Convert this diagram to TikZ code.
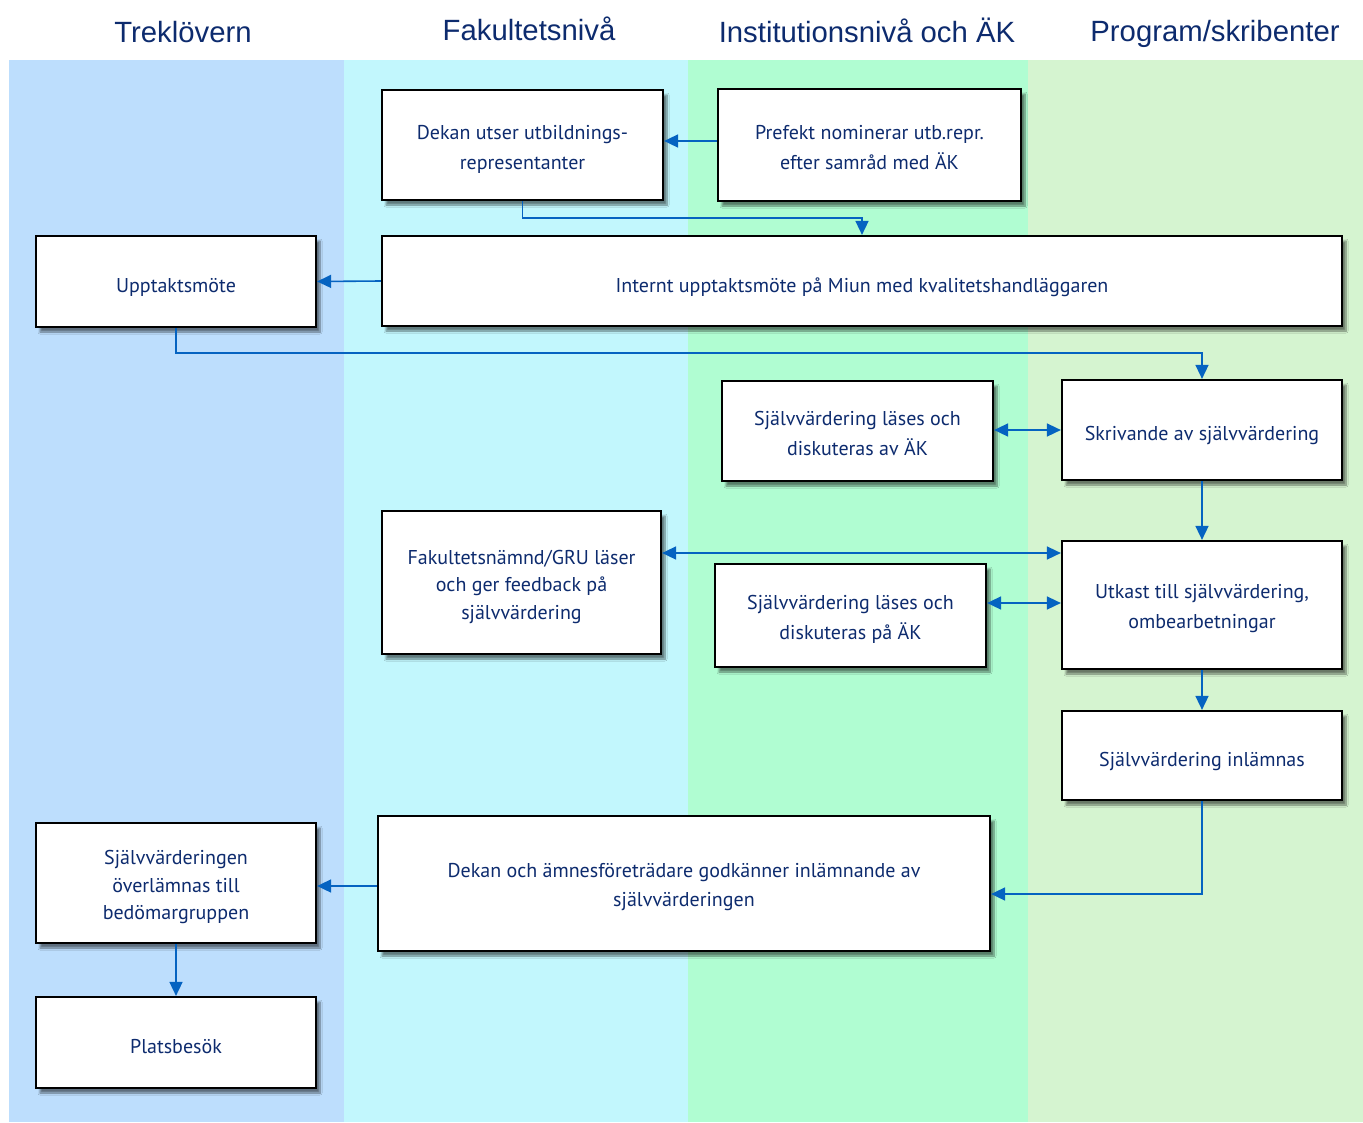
\documentclass[tikz,border=0pt]{standalone}
\usepackage{fontspec}
\setmainfont{PT Sans}
\newfontfamily\headfont{Liberation Sans}
\usetikzlibrary{arrows.meta,shadows.blur}
\definecolor{laneA}{HTML}{BDDEFD}
\definecolor{laneB}{HTML}{C2F7FD}
\definecolor{laneC}{HTML}{B0FDD2}
\definecolor{laneD}{HTML}{D5F4D0}
\definecolor{ink}{HTML}{0D2B6E}
\definecolor{flow}{HTML}{0563C1}
\tikzset{
  stepbox/.style={draw=black, line width=2.2pt, fill=white, inner sep=0pt,
    blur shadow={shadow xshift=4pt, shadow yshift=-5pt, shadow blur steps=8, shadow opacity=50}},
  steptext/.style={text=ink, align=center, inner sep=0pt,
    font=\fontsize{20}{30}\selectfont},
  lanehead/.style={text=ink, font=\headfont\fontsize{29.3}{32}\selectfont,
    text height=21pt, text depth=6pt, inner sep=0pt},
  flowline/.style={draw=flow, line width=1.6pt, -{Triangle[length=14pt,width=13pt]}},
  twoway/.style={draw=flow, line width=1.6pt, {Triangle[length=14pt,width=13pt]}-{Triangle[length=14pt,width=13pt]}}
}
% box from (x1,y1) to (x2,y2) with its text set slightly below the centre
\newcommand{\bx}[7][]{% [text opts], name, x1, y1, x2, y2, text
  \node[stepbox, minimum width={#5-#3}, minimum height={#6-#4}] (#2) at ({(#3+#5)/2},{(#4+#6)/2}) {};
  \node[steptext, yshift=-4pt, #1] (#2-t) at (#2.center) {#7};}
\begin{document}
\begin{tikzpicture}[x=1pt, y=-1pt]
\useasboundingbox (0,0) rectangle (1363,1122);
\fill[white] (0,0) rectangle (1363,1122);
% swim lanes
\fill[laneA] (9,60) rectangle (344,1122);
\fill[laneB] (344,60) rectangle (688,1122);
\fill[laneC] (688,60) rectangle (1028,1122);
\fill[laneD] (1028,60) rectangle (1363,1122);
\node[lanehead] (h1) at (183,35) {Treklövern};
\node[lanehead] (h2) at (529,33) {Fakultetsnivå};
\node[lanehead] (h3) at (867,35) {Institutionsnivå och ÄK};
\node[lanehead] (h4) at (1215,34) {Program/skribenter};
% process steps
\bx{dekan}{382}{90}{663}{200}{Dekan utser utbildnings-\\representanter}
\bx[yshift=1.5pt]{prefekt}{718}{89}{1021}{201}{Prefekt nominerar utb.repr.\\efter samråd med ÄK}
\bx[yshift=-2pt]{internt}{382}{236}{1342}{326}{Internt upptaktsmöte på Miun med kvalitetshandläggaren}
\bx[yshift=-2pt]{upptakt}{36}{236}{316}{327}{Upptaktsmöte}
\bx[yshift=2pt]{lasesav}{722}{381}{993}{481}{Självvärdering läses och\\diskuteras av ÄK}
\bx[yshift=-1pt]{skriv}{1062}{380}{1342}{480}{Skrivande av självvärdering}
\bx[font=\fontsize{20}{27.5}\selectfont]{fak}{382}{511}{661}{654}{Fakultetsnämnd/GRU läser\\och ger feedback på\\självvärdering}
\bx{lasespa}{715}{564}{986}{667}{Självvärdering läses och\\diskuteras på ÄK}
\bx{utkast}{1062}{541}{1342}{669}{Utkast till självvärdering,\\ombearbetningar}
\bx[yshift=-2pt]{inlamn}{1062}{711}{1342}{800}{Självvärdering inlämnas}
\bx[font=\fontsize{20}{29}\selectfont]{godk}{378}{816}{990}{951}{Dekan och ämnesföreträdare godkänner inlämnande av\\självvärderingen}
\bx[font=\fontsize{20}{27.5}\selectfont]{overl}{36}{823}{316}{943}{Självvärderingen\\överlämnas till\\bedömargruppen}
\bx{plats}{36}{997}{316}{1088}{Platsbesök}
% connectors
\draw[flowline] (prefekt.west |- 0,141) -- (dekan.east |- 0,141);
\draw[flowline] (dekan.south) -- (dekan.south |- 0,218) -- (internt.north |- 0,218) -- (internt.north);
\draw[flowline] (internt.west) -- (upptakt.east);
\draw[flowline] (upptakt.south) -- (upptakt.south |- 0,353) -- (skriv.north |- 0,353) -- (skriv.north);
\draw[twoway] (lasesav.east |- 0,430) -- (skriv.west |- 0,430);
\draw[flowline] (skriv.south) -- (utkast.north);
\draw[twoway] (fak.east |- 0,553) -- (utkast.west |- 0,553);
\draw[twoway] (lasespa.east |- 0,603) -- (utkast.west |- 0,603);
\draw[flowline] (utkast.south) -- (inlamn.north);
\draw[flowline] (inlamn.south) -- (inlamn.south |- 0,894) -- (godk.east |- 0,894);
\draw[flowline] (godk.west |- 0,886) -- (overl.east |- 0,886);
\draw[flowline] (overl.south) -- (plats.north);
\end{tikzpicture}
\end{document}
